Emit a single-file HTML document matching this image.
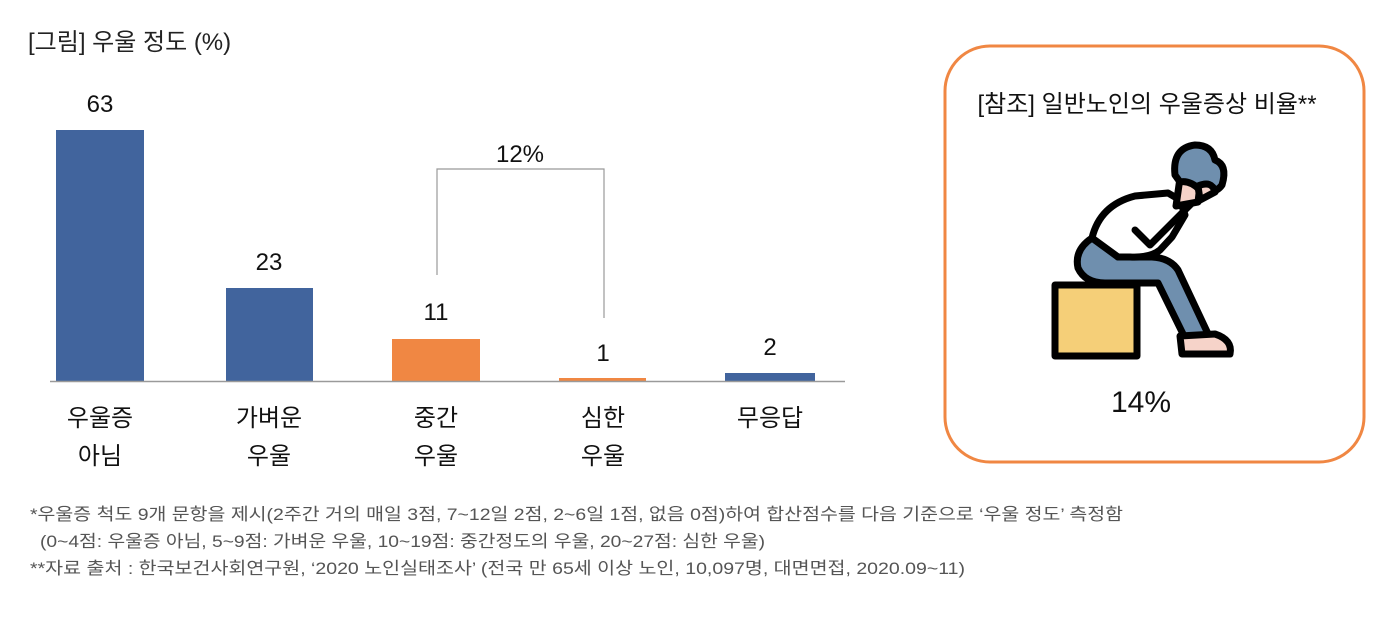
<!DOCTYPE html>
<html><head><meta charset="utf-8"><style>
body{margin:0;background:#fff;}
svg{display:block;font-family:"Liberation Sans","Noto Sans CJK KR",sans-serif;}
</style></head><body>
<svg width="1394" height="618" viewBox="0 0 1394 618">
<text x="28" y="50" font-size="24" fill="#222">[그림] 우울 정도 (%)</text>
<rect x="56" y="130" width="88" height="251" fill="#41649D"/>
<rect x="226" y="288" width="87" height="93" fill="#41649D"/>
<rect x="392" y="339" width="88" height="42" fill="#F08743"/>
<rect x="559" y="378" width="87" height="3" fill="#F08743"/>
<rect x="725" y="373" width="90" height="8" fill="#41649D"/>
<line x1="50" y1="381.5" x2="845" y2="381.5" stroke="#9a9a9a" stroke-width="1.5"/>
<g font-size="24" fill="#111" text-anchor="middle">
<text x="100" y="112">63</text><text x="269" y="270">23</text><text x="436" y="320">11</text><text x="603" y="361">1</text><text x="770" y="355">2</text>
<text x="520" y="162">12%</text>
<text x="100" y="426">우울증</text><text x="100" y="464">아님</text>
<text x="269" y="426">가벼운</text><text x="269" y="464">우울</text>
<text x="436" y="426">중간</text><text x="436" y="464">우울</text>
<text x="603" y="426">심한</text><text x="603" y="464">우울</text>
<text x="770" y="426">무응답</text>
</g>
<polyline points="437,275 437,169 604,169 604,318" fill="none" stroke="#999" stroke-width="1.2"/>
<g font-size="17" fill="#555">
<text x="30" y="520" textLength="1093" lengthAdjust="spacingAndGlyphs">*우울증 척도 9개 문항을 제시(2주간 거의 매일 3점, 7~12일 2점, 2~6일 1점, 없음 0점)하여 합산점수를 다음 기준으로 ‘우울 정도’ 측정함</text>
<text x="40" y="547" textLength="725" lengthAdjust="spacingAndGlyphs">(0~4점: 우울증 아님, 5~9점: 가벼운 우울, 10~19점: 중간정도의 우울, 20~27점: 심한 우울)</text>
<text x="30" y="574" textLength="935" lengthAdjust="spacingAndGlyphs">**자료 출처 : 한국보건사회연구원, ‘2020 노인실태조사’ (전국 만 65세 이상 노인, 10,097명, 대면면접, 2020.09~11)</text>
</g>
<rect x="945" y="46" width="419" height="416" rx="45" fill="none" stroke="#F08743" stroke-width="3"/>
<text x="1147" y="112" font-size="24" fill="#111" text-anchor="middle">[참조] 일반노인의 우울증상 비율**</text>
<text x="1141" y="412" font-size="30" fill="#111" text-anchor="middle">14%</text>
<g stroke="#000" stroke-width="7" stroke-linejoin="round" stroke-linecap="round">
<rect x="1055" y="285" width="82" height="71" fill="#F5CF78"/>
<path d="M1092,238 Q1074,250 1078,268 Q1085,283 1105,283 L1158,283 L1185,338 L1210,338 L1178,270 Q1170,258 1152,257 L1118,257 Q1108,245 1092,238 Z" fill="#6F8FAE"/>
<path d="M1180,336 L1215,334 Q1233,340 1230,354 L1182,354 Z" fill="#F6D3C9"/>
<path d="M1092,238 Q1100,205 1135,196 L1168,193 L1180,200 L1185,215 L1172,237 L1160,250 Q1150,258 1130,257 L1118,257 Z" fill="#fff"/>
<path d="M1135,230 L1150,245 L1200,195" fill="none"/>
<path d="M1176,206 L1180,178 L1200,185 L1198,202 Z" fill="#F6D3C9"/>
<path d="M1175,175 Q1172,148 1195,145 Q1212,145 1215,160 Q1228,165 1222,185 Q1215,195 1200,190 Q1190,180 1180,182 Z" fill="#6F8FAE"/>
<path d="M1198,186 Q1212,180 1215,192 L1200,200 Z" fill="#F6D3C9"/>
</g>
</svg>
</body></html>
